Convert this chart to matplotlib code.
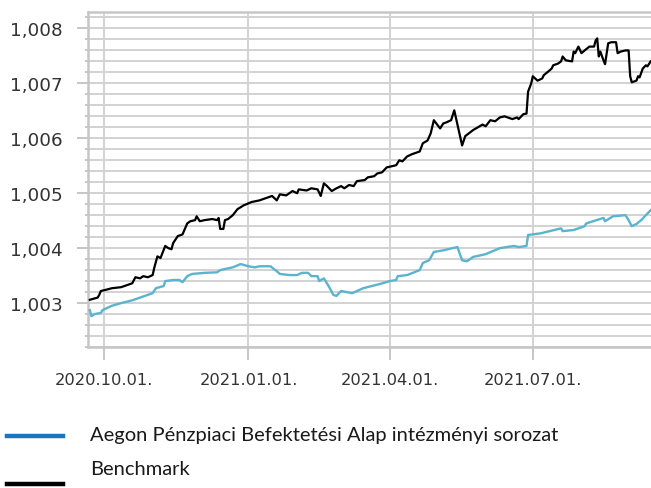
import matplotlib
matplotlib.use("Agg")
import matplotlib.pyplot as plt
from matplotlib.lines import Line2D
from matplotlib.ticker import MultipleLocator, FuncFormatter
import pandas as pd

plt.rcParams["font.family"] = ["DejaVu Sans"]

# ---------------- data ----------------
bench_dates = [
    "2020-09-22", "2020-09-27", "2020-09-28", "2020-09-29", "2020-10-02", "2020-10-06",
    "2020-10-12", "2020-10-16", "2020-10-19", "2020-10-21", "2020-10-24", "2020-10-26",
    "2020-10-29", "2020-11-01", "2020-11-02", "2020-11-04", "2020-11-06", "2020-11-09",
    "2020-11-11", "2020-11-13", "2020-11-14", "2020-11-17", "2020-11-20", "2020-11-23",
    "2020-11-25", "2020-11-28", "2020-11-29", "2020-12-01", "2020-12-04", "2020-12-09",
    "2020-12-12", "2020-12-13", "2020-12-14", "2020-12-16", "2020-12-17", "2020-12-19",
    "2020-12-22", "2020-12-25", "2020-12-29", "2021-01-03", "2021-01-08", "2021-01-16",
    "2021-01-19", "2021-01-21", "2021-01-25", "2021-01-29", "2021-02-01", "2021-02-02",
    "2021-02-07", "2021-02-10", "2021-02-14", "2021-02-16", "2021-02-18", "2021-02-20",
    "2021-02-23", "2021-02-26", "2021-03-01", "2021-03-03", "2021-03-06", "2021-03-09",
    "2021-03-11", "2021-03-16", "2021-03-18", "2021-03-22", "2021-03-24", "2021-03-27",
    "2021-03-30", "2021-04-02", "2021-04-05", "2021-04-07", "2021-04-09", "2021-04-12",
    "2021-04-15", "2021-04-20", "2021-04-22", "2021-04-25", "2021-04-27", "2021-04-29",
    "2021-05-03", "2021-05-05", "2021-05-07", "2021-05-10", "2021-05-12", "2021-05-17",
    "2021-05-19", "2021-05-24", "2021-05-27", "2021-05-30", "2021-06-01", "2021-06-04",
    "2021-06-07", "2021-06-10", "2021-06-13", "2021-06-15", "2021-06-18", "2021-06-21",
    "2021-06-22", "2021-06-25", "2021-06-27", "2021-06-28", "2021-06-30", "2021-07-01",
    "2021-07-04", "2021-07-07", "2021-07-08", "2021-07-11", "2021-07-13", "2021-07-14",
    "2021-07-17", "2021-07-19", "2021-07-20", "2021-07-22", "2021-07-26", "2021-07-27",
    "2021-07-28", "2021-07-30", "2021-08-01", "2021-08-03", "2021-08-06", "2021-08-09",
    "2021-08-10", "2021-08-11", "2021-08-12", "2021-08-13", "2021-08-15", "2021-08-16",
    "2021-08-18", "2021-08-20", "2021-08-23", "2021-08-24", "2021-08-26", "2021-08-29",
    "2021-08-31", "2021-09-01", "2021-09-02", "2021-09-05", "2021-09-06", "2021-09-07",
    "2021-09-09", "2021-09-11", "2021-09-12", "2021-09-14",
]
bench_values = [
    1.00306, 1.00310, 1.00315, 1.00322, 1.00324, 1.00327,
    1.00329, 1.00333, 1.00336, 1.00347, 1.00345, 1.00349,
    1.00347, 1.00351, 1.00364, 1.00385, 1.00382, 1.00404,
    1.00400, 1.00398, 1.00409, 1.00422, 1.00425, 1.00445,
    1.00449, 1.00451, 1.00458, 1.00449, 1.00451, 1.00453,
    1.00451, 1.00455, 1.00435, 1.00435, 1.00451, 1.00453,
    1.00460, 1.00471, 1.00478, 1.00484, 1.00487, 1.00495,
    1.00487, 1.00498, 1.00496, 1.00504, 1.00500, 1.00507,
    1.00505, 1.00509, 1.00507, 1.00495, 1.00518, 1.00513,
    1.00504, 1.00509, 1.00513, 1.00509, 1.00515, 1.00513,
    1.00522, 1.00524, 1.00529, 1.00531, 1.00536, 1.00538,
    1.00547, 1.00549, 1.00551, 1.00560, 1.00558, 1.00567,
    1.00571, 1.00576, 1.00591, 1.00596, 1.00609, 1.00633,
    1.00618, 1.00627, 1.00629, 1.00633, 1.00651, 1.00587,
    1.00604, 1.00615, 1.00620, 1.00625, 1.00622, 1.00633,
    1.00631, 1.00638, 1.00640, 1.00638, 1.00635, 1.00638,
    1.00635, 1.00644, 1.00645, 1.00685, 1.00700, 1.00713,
    1.00705, 1.00709, 1.00715, 1.00722, 1.00727, 1.00733,
    1.00736, 1.00740, 1.00749, 1.00742, 1.00740, 1.00758,
    1.00755, 1.00767, 1.00755, 1.00760, 1.00767, 1.00767,
    1.00778, 1.00782, 1.00749, 1.00758, 1.00742, 1.00735,
    1.00773, 1.00775, 1.00775, 1.00755, 1.00758, 1.00760,
    1.00760, 1.00713, 1.00702, 1.00705, 1.00713, 1.00711,
    1.00727, 1.00733, 1.00731, 1.00740,
]

fund_dates = [
    "2020-09-22", "2020-09-23", "2020-09-25", "2020-09-29", "2020-09-30", "2020-10-06",
    "2020-10-12", "2020-10-19", "2020-10-25", "2020-11-01", "2020-11-03", "2020-11-08",
    "2020-11-09", "2020-11-14", "2020-11-18", "2020-11-20", "2020-11-23", "2020-11-26",
    "2020-12-04", "2020-12-12", "2020-12-14", "2020-12-17", "2020-12-22", "2020-12-27",
    "2021-01-01", "2021-01-05", "2021-01-08", "2021-01-15", "2021-01-19", "2021-01-21",
    "2021-01-27", "2021-02-01", "2021-02-04", "2021-02-08", "2021-02-10", "2021-02-14",
    "2021-02-15", "2021-02-18", "2021-02-21", "2021-02-24", "2021-02-26", "2021-03-01",
    "2021-03-08", "2021-03-15", "2021-03-26", "2021-04-01", "2021-04-05", "2021-04-06",
    "2021-04-12", "2021-04-20", "2021-04-22", "2021-04-26", "2021-04-29", "2021-05-05",
    "2021-05-14", "2021-05-17", "2021-05-20", "2021-05-24", "2021-06-01", "2021-06-10",
    "2021-06-19", "2021-06-22", "2021-06-27", "2021-06-28", "2021-07-06", "2021-07-19",
    "2021-07-20", "2021-07-27", "2021-08-03", "2021-08-04", "2021-08-15", "2021-08-16",
    "2021-08-21", "2021-08-29", "2021-08-31", "2021-09-02", "2021-09-05", "2021-09-08",
    "2021-09-14",
]
fund_values = [
    1.00287, 1.00276, 1.00280, 1.00282, 1.00287, 1.00295,
    1.00300, 1.00305, 1.00311, 1.00318, 1.00327, 1.00331,
    1.00340, 1.00342, 1.00342, 1.00338, 1.00349, 1.00353,
    1.00355, 1.00356, 1.00360, 1.00362, 1.00365, 1.00371,
    1.00367, 1.00365, 1.00367, 1.00367, 1.00358, 1.00353,
    1.00351, 1.00351, 1.00355, 1.00355, 1.00349, 1.00349,
    1.00340, 1.00345, 1.00331, 1.00315, 1.00313, 1.00322,
    1.00318, 1.00327, 1.00335, 1.00340, 1.00342, 1.00349,
    1.00351, 1.00360, 1.00373, 1.00378, 1.00393, 1.00396,
    1.00402, 1.00378, 1.00376, 1.00384, 1.00389, 1.00400,
    1.00404, 1.00402, 1.00404, 1.00424, 1.00427, 1.00436,
    1.00431, 1.00433, 1.00440, 1.00445, 1.00455, 1.00449,
    1.00458, 1.00460, 1.00451, 1.00440, 1.00444, 1.00451,
    1.00469,
]

x_ticks = ["2020-10-01", "2021-01-01", "2021-04-01", "2021-07-01"]
x_tick_labels = ["2020.10.01.", "2021.01.01.", "2021.04.01.", "2021.07.01."]
series_labels = ["Aegon Pénzpiaci Befektetési Alap intézményi sorozat", "Benchmark"]

# ---------------- figure ----------------
W, H = 651, 489
fig = plt.figure(figsize=(W / 100, H / 100), dpi=100)
ax = fig.add_axes([88 / W, 1 - 348 / H, (W - 88) / W, (348 - 13) / H])

grid_c = "#d2d2d2"
spine_c = "#c6c6c6"
fund_c = "#5ab4cd"
legend_fund_c = "#1b75bc"

ax.plot(pd.to_datetime(fund_dates), fund_values, color=fund_c, lw=1.7, zorder=3)
ax.plot(pd.to_datetime(bench_dates), bench_values, color="black", lw=1.6, zorder=4)

ax.set_xlim(pd.Timestamp("2020-09-20 20:00"), pd.Timestamp("2021-09-14 06:00"))
ax.set_ylim(1.0022, 1.0083)

ax.yaxis.set_major_locator(MultipleLocator(0.001))
ax.yaxis.set_minor_locator(MultipleLocator(0.0002))
ax.yaxis.set_major_formatter(FuncFormatter(lambda v, p: f"{v:.3f}".replace(".", ",")))

ax.set_xticks(pd.to_datetime(x_ticks))
ax.set_xticklabels(x_tick_labels)

ax.grid(True, which="both", axis="y", color=grid_c, lw=1.4, zorder=0)
ax.grid(True, which="major", axis="x", color=grid_c, lw=1.4, zorder=0)
ax.set_axisbelow(True)

for s in ["top", "left", "bottom"]:
    ax.spines[s].set_color(spine_c)
    ax.spines[s].set_linewidth(1.8)
ax.spines["right"].set_visible(False)

ax.tick_params(axis="y", which="major", length=8, width=1.4, color=spine_c,
               pad=10, labelsize=13.2, labelcolor="#333333")
ax.tick_params(axis="y", which="minor", length=2.5, width=1.4, color=spine_c)
ax.tick_params(axis="x", which="major", length=9, width=1.4, color=spine_c,
               pad=9, labelsize=11.7, labelcolor="#333333")

# ---------------- legend ----------------
leg_font = ["Lato", "DejaVu Sans"]
fig.add_artist(Line2D([7 / W, 63 / W], [1 - 436.7 / H] * 2, transform=fig.transFigure,
                      color=legend_fund_c, lw=3.2))
fig.add_artist(Line2D([7 / W, 63 / W], [1 - 484.5 / H] * 2, transform=fig.transFigure,
                      color="black", lw=3.2))
fig.text(90 / W, 1 - 435.5 / H, series_labels[0], ha="left", va="center",
         fontsize=14.5, family=leg_font, color="#1a1a1a")
fig.text(90 / W, 1 - 469.7 / H, series_labels[1], ha="left", va="center",
         fontsize=14.5, family=leg_font, color="#1a1a1a")

fig.savefig("out.png", dpi=100)
